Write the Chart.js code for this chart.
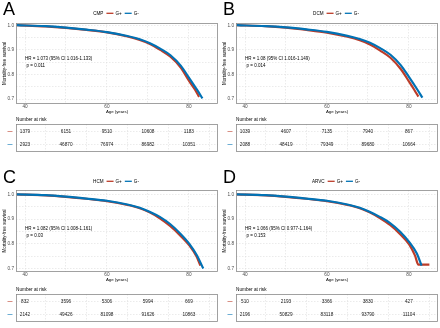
<!DOCTYPE html>
<html>
<head>
<meta charset="utf-8">
<title>Mortality-free survival by genotype</title>
<script src="https://cdn.jsdelivr.net/npm/chart.js"></script>
<style>
  body{margin:0;background:#fff;}
  #wrap{position:relative;width:440px;height:328px;overflow:hidden;background:#fff;}
  canvas{position:absolute;}
</style>
</head>
<body>
<div id="wrap">
  <canvas id="kmA" width="220" height="114" style="left:0;top:0"></canvas>
  <canvas id="riskA" width="220" height="42" style="left:0;top:116px"></canvas>
  <canvas id="kmB" width="220" height="114" style="left:220px;top:0"></canvas>
  <canvas id="riskB" width="220" height="42" style="left:220px;top:116px"></canvas>
  <canvas id="kmC" width="220" height="114" style="left:0;top:168px"></canvas>
  <canvas id="riskC" width="220" height="42" style="left:0;top:286px"></canvas>
  <canvas id="kmD" width="220" height="114" style="left:220px;top:168px"></canvas>
  <canvas id="riskD" width="220" height="42" style="left:220px;top:286px"></canvas>
</div>
<script>
// ---- data ----
const panelLetters = ['A', 'B', 'C', 'D'];
const groupNames = ['CMP', 'DCM', 'HCM', 'ARVC'];
const seriesNames = ['G+', 'G-'];
const hrLabels = [
  'HR = 1.073 (95% CI 1.016-1.133)',
  'HR = 1.08 (95% CI 1.016-1.149)',
  'HR = 1.082 (95% CI 1.008-1.161)',
  'HR = 1.066 (95% CI 0.977-1.164)'
];
const pLabels = ['p = 0.011', 'p = 0.014', 'p = 0.03', 'p = 0.153'];

// survival curves (age in years, mortality-free survival)
const ageA_pos = [38, 45, 50, 55, 60, 65, 68, 70.5, 73, 75.5, 78, 80, 81.5, 82.5];
const survA_pos = [1, 0.995, 0.989, 0.981, 0.971, 0.954, 0.94, 0.924, 0.9, 0.872, 0.828, 0.775, 0.738, 0.709];
const ageA_neg = [38, 45, 50, 55, 60, 65, 68, 70.5, 73, 75.5, 78, 80, 82, 83.3];
const survA_neg = [1, 0.996, 0.99, 0.982, 0.972, 0.956, 0.943, 0.927, 0.905, 0.878, 0.836, 0.787, 0.737, 0.703];

const ageB_pos = [38, 45, 50, 55, 60, 65, 68, 70.5, 73, 75.5, 78, 80, 81.3, 82.3];
const survB_pos = [1, 0.996, 0.99, 0.981, 0.97, 0.953, 0.939, 0.922, 0.897, 0.868, 0.822, 0.772, 0.738, 0.71];
const ageB_neg = [38, 45, 50, 55, 60, 65, 68, 70.5, 73, 75.5, 78, 80, 82, 83.3];
const survB_neg = [1, 0.996, 0.991, 0.983, 0.973, 0.957, 0.944, 0.929, 0.907, 0.88, 0.838, 0.79, 0.74, 0.706];

const ageC_pos = [38, 45, 50, 55, 60, 65, 68, 70.4, 72.9, 75.4, 77.8, 80.1, 81.9, 82.8];
const survC_pos = [1, 0.996, 0.99, 0.982, 0.972, 0.957, 0.944, 0.927, 0.903, 0.872, 0.835, 0.794, 0.748, 0.712];
const ageC_neg = [38, 45, 50, 55, 60, 65, 68, 70.4, 72.9, 75.4, 77.8, 80.1, 81.9, 83.5];
const survC_neg = [1, 0.997, 0.991, 0.983, 0.974, 0.959, 0.946, 0.93, 0.909, 0.88, 0.843, 0.8, 0.755, 0.7];

const ageD_pos = [38, 45, 50, 55, 60, 65, 68, 70.4, 72.9, 75.4, 77.8, 80.1, 81.5, 82.3, 85];
const survD_pos = [1, 0.996, 0.99, 0.982, 0.972, 0.957, 0.944, 0.927, 0.904, 0.876, 0.84, 0.797, 0.752, 0.716, 0.716];
const ageD_neg = [38, 45, 50, 55, 60, 65, 68, 70.4, 72.9, 75.4, 77.8, 80.1, 81.9, 83.1];
const survD_neg = [1, 0.997, 0.991, 0.983, 0.974, 0.959, 0.946, 0.93, 0.909, 0.884, 0.85, 0.807, 0.762, 0.712];

// number at risk
const riskAges = [40, 50, 60, 70, 80];
const riskA_pos = [1379, 6151, 9510, 10608, 1183];
const riskA_neg = [2923, 46870, 76974, 86982, 10351];
const riskB_pos = [1039, 4607, 7135, 7940, 867];
const riskB_neg = [2088, 48419, 79349, 89680, 10664];
const riskC_pos = [832, 3596, 5306, 5994, 669];
const riskC_neg = [2142, 49426, 81098, 91626, 10863];
const riskD_pos = [510, 2193, 3366, 3830, 427];
const riskD_neg = [2196, 50829, 83118, 93790, 11104];

const xTicks = [40, 50, 60, 70, 80];
const yTicks = [0.7, 0.75, 0.8, 0.85, 0.9, 0.95, 1.0];

// ---- styling ----
const RED = '#BC3C29';
const BLUE = '#0072B5';
const FONT = "'Liberation Sans', Arial, sans-serif";
const GRID = '#dedede';
Chart.defaults.font.family = FONT;

function pairs(xs, ys) {
  return xs.map((x, i) => ({ x: x, y: ys[i] }));
}

// grey box round the plotting area (theme_bw)
const frame = {
  id: 'frame',
  afterDraw(chart) {
    const a = chart.chartArea, ctx = chart.ctx;
    ctx.save();
    ctx.strokeStyle = '#8a8a8a';
    ctx.lineWidth = 0.8;
    ctx.strokeRect(Math.round(a.left) + 0.5, Math.round(a.top) + 0.5,
      Math.round(a.right - a.left) - 1, Math.round(a.bottom - a.top) - 1);
    ctx.restore();
  }
};

// panel letter, legend and HR text
const annot = {
  id: 'annot',
  afterDraw(chart, args, o) {
    const ctx = chart.ctx, a = chart.chartArea;
    const x = chart.scales.x, y = chart.scales.y;
    ctx.save();
    ctx.fillStyle = '#000';
    ctx.font = '18px ' + FONT;
    ctx.textAlign = 'left';
    ctx.textBaseline = 'top';
    ctx.fillText(o.letter, 3, 1);

    // legend
    ctx.font = '4.6px ' + FONT;
    ctx.textBaseline = 'middle';
    const ly = 13.3;
    const parts = [
      { t: o.group, c: null },
      { t: seriesNames[0], c: RED },
      { t: seriesNames[1], c: BLUE }
    ];
    let w = 0;
    parts.forEach(p => { w += ctx.measureText(p.t).width + (p.c ? 10 : 0) + 2; });
    let cx = (a.left + a.right) / 2 - w / 2;
    parts.forEach(p => {
      if (p.c) {
        ctx.strokeStyle = p.c;
        ctx.lineWidth = 1.3;
        ctx.beginPath();
        ctx.moveTo(cx + 1, ly);
        ctx.lineTo(cx + 8, ly);
        ctx.stroke();
        cx += 10;
      }
      ctx.fillStyle = '#000';
      ctx.fillText(p.t, cx, ly);
      cx += ctx.measureText(p.t).width + 2;
    });

    // hazard ratio
    ctx.font = '4.5px ' + FONT;
    const hx = x.getPixelForValue(40);
    ctx.fillText(o.hr, hx, y.getPixelForValue(0.862));
    ctx.fillText(o.p, hx + 1.5, y.getPixelForValue(0.834));
    ctx.restore();
  }
};

function kmChart(id, cfg) {
  return new Chart(document.getElementById(id), {
    type: 'line',
    data: {
      datasets: [
        { label: seriesNames[1], data: pairs(cfg.ageNeg, cfg.survNeg), borderColor: BLUE,
          borderWidth: 2.2, pointRadius: 0, cubicInterpolationMode: 'monotone' },
        { label: seriesNames[0], data: pairs(cfg.agePos, cfg.survPos), borderColor: RED,
          borderWidth: 2.2, pointRadius: 0, cubicInterpolationMode: 'monotone' }
      ]
    },
    options: {
      responsive: false,
      animation: false,
      layout: { padding: { top: cfg.padTop, right: 2, left: 0, bottom: 0 } },
      plugins: {
        legend: { display: false },
        tooltip: { enabled: false },
        annot: { letter: cfg.letter, group: cfg.group, hr: cfg.hr, p: cfg.p }
      },
      scales: {
        x: {
          type: 'linear', min: 37.8, max: 87.1,
          afterBuildTicks: s => { s.ticks = xTicks.map(v => ({ value: v })); },
          afterFit: s => { s.height = cfg.xHeight; },
          ticks: { autoSkip: false, maxRotation: 0, padding: 0, color: '#4d4d4d',
            font: { size: 4.7 }, callback: v => (v % 20 === 0 ? v : '') },
          grid: { color: GRID, lineWidth: 0.6, drawTicks: false },
          border: { display: false, dash: [1.5, 1.5] },
          title: { display: true, text: 'Age (years)', color: '#000', font: { size: 4.3 }, padding: 0 }
        },
        y: {
          type: 'linear', min: cfg.yMin, max: cfg.yMax,
          afterBuildTicks: s => { s.ticks = yTicks.map(v => ({ value: v })); },
          afterFit: s => { s.width = 16; },
          ticks: { autoSkip: false, padding: 2, color: '#4d4d4d', font: { size: 4.7 },
            callback: v => (Math.round(v * 100) % 10 === 0 ? v.toFixed(1) : '') },
          grid: { color: GRID, lineWidth: 0.6, drawTicks: false },
          border: { display: false, dash: [1.5, 1.5] },
          title: { display: true, text: 'Mortality-free survival', color: '#000', font: { size: 4.5 },
            padding: { top: 2, bottom: 0 } }
        }
      }
    },
    plugins: [annot, frame]
  });
}

// numbers at risk written at their age on the shared x scale
const riskText = {
  id: 'riskText',
  afterDraw(chart) {
    const ctx = chart.ctx, a = chart.chartArea;
    ctx.save();
    ctx.fillStyle = '#000';
    ctx.font = '4.7px ' + FONT;
    ctx.textAlign = 'left';
    ctx.textBaseline = 'middle';
    ctx.fillText('Number at risk', a.left, a.top - 4);
    ctx.textAlign = 'center';
    ctx.fillStyle = '#1a1a1a';
    chart.data.datasets.forEach((ds, i) => {
      chart.getDatasetMeta(i).data.forEach((pt, j) => {
        ctx.fillText(String(ds.data[j].n), pt.x, pt.y);
      });
    });
    ctx.restore();
  }
};

function riskChart(id, pos, neg) {
  return new Chart(document.getElementById(id), {
    type: 'scatter',
    data: {
      datasets: [
        { label: seriesNames[0], data: riskAges.map((v, i) => ({ x: v, y: 1, n: pos[i] })), pointRadius: 0 },
        { label: seriesNames[1], data: riskAges.map((v, i) => ({ x: v, y: 2, n: neg[i] })), pointRadius: 0 }
      ]
    },
    options: {
      responsive: false,
      animation: false,
      layout: { padding: { top: 8, right: 2, left: 0, bottom: 2 } },
      plugins: { legend: { display: false }, tooltip: { enabled: false } },
      scales: {
        x: {
          type: 'linear', min: 37.8, max: 87.1,
          afterBuildTicks: s => { s.ticks = [45, 55, 65, 75, 85].map(v => ({ value: v })); },
          afterFit: s => { s.height = 0; },
          ticks: { display: false },
          grid: { color: GRID, lineWidth: 0.6, drawTicks: false },
          border: { display: false, dash: [1.5, 1.5] }
        },
        y: {
          type: 'linear', min: 0.4, max: 2.55, reverse: true,
          afterBuildTicks: s => { s.ticks = [1, 2].map(v => ({ value: v })); },
          afterFit: s => { s.width = 16; },
          ticks: { padding: 3.5, font: { size: 5, weight: 'bold' },
            color: c => (c.tick && c.tick.value === 1 ? RED : BLUE), callback: () => '\u2014' },
          grid: { color: GRID, lineWidth: 0.6, drawTicks: false },
          border: { display: false, dash: [1.5, 1.5] }
        }
      }
    },
    plugins: [riskText, frame]
  });
}

const rowTop = { padTop: 23, xHeight: 10, yMin: 0.68, yMax: 1.009 };
const rowBottom = { padTop: 22, xHeight: 10, yMin: 0.686, yMax: 1.0175 };

kmChart('kmA', Object.assign({ letter: panelLetters[0], group: groupNames[0], hr: hrLabels[0], p: pLabels[0],
  agePos: ageA_pos, survPos: survA_pos, ageNeg: ageA_neg, survNeg: survA_neg }, rowTop));
kmChart('kmB', Object.assign({ letter: panelLetters[1], group: groupNames[1], hr: hrLabels[1], p: pLabels[1],
  agePos: ageB_pos, survPos: survB_pos, ageNeg: ageB_neg, survNeg: survB_neg }, rowTop));
kmChart('kmC', Object.assign({ letter: panelLetters[2], group: groupNames[2], hr: hrLabels[2], p: pLabels[2],
  agePos: ageC_pos, survPos: survC_pos, ageNeg: ageC_neg, survNeg: survC_neg }, rowBottom));
kmChart('kmD', Object.assign({ letter: panelLetters[3], group: groupNames[3], hr: hrLabels[3], p: pLabels[3],
  agePos: ageD_pos, survPos: survD_pos, ageNeg: ageD_neg, survNeg: survD_neg }, rowBottom));

riskChart('riskA', riskA_pos, riskA_neg);
riskChart('riskB', riskB_pos, riskB_neg);
riskChart('riskC', riskC_pos, riskC_neg);
riskChart('riskD', riskD_pos, riskD_neg);
</script>
</body>
</html>
